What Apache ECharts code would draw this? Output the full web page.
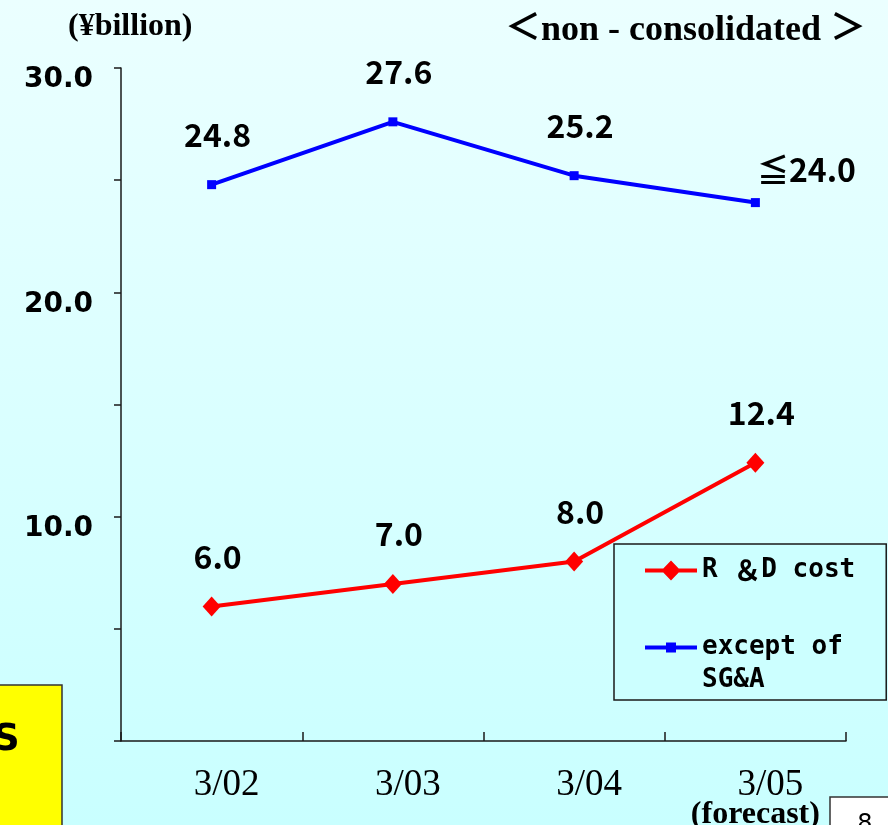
<!DOCTYPE html>
<html>
<head>
<meta charset="utf-8">
<script src="https://cdn.jsdelivr.net/npm/echarts@6/dist/echarts.min.js"></script>
<style>
  html, body { margin: 0; padding: 0; }
  #chart { width: 888px; height: 825px; }
</style>
</head>
<body>
<div id="chart"></div>
<script>
// Fiscal years (March year-end); the last one is a forecast
const categories = ['3/02', '3/03', '3/04', '3/05'];
const forecastIndex = 3;
const forecastNote = '(forecast)';

// ¥ billion, non-consolidated
const rdCost = [6.0, 7.0, 8.0, 12.4];
const sgaExcept = [24.8, 27.6, 25.2, 24.0];

// Value-axis labels that are printed (ticks every 5)
const yLabelValues = [10, 20, 30];

const seriesNames = ['R&D cost', 'except of SG&A'];
const legendText = {
  'R&D cost': '{m|R }{c|＆}{m|D cost}',
  'except of SG&A': '{m|}\n{m|except of}\n{m|SG&A}'
};

const GOTHIC = '"Noto Sans CJK JP", "Noto Sans", sans-serif';
const MONO = '"DejaVu Sans Mono", "Noto Sans CJK JP", monospace';
const SERIF = '"Liberation Serif", "Noto Sans CJK JP", serif';

// Legend icons: line with the series marker, drawn in a 52 x 20 box
const RD_ICON = 'path://M0 7.9H18.3L26 0L33.7 7.9H52V12.1H33.7L26 20L18.3 12.1H0Z';
const SGA_ICON = 'path://M26 0h0.01v0.01h-0.01Z M0 7.9H21V5H31V7.9H52V12.1H31V15H21V12.1H0Z M26 19.99h0.01v0.01h-0.01Z';

const chart = echarts.init(document.getElementById('chart'), null, { renderer: 'canvas' });

const valueLabel = {
  show: true,
  position: 'top',
  color: '#000',
  fontFamily: GOTHIC,
  fontWeight: 'bold',
  fontSize: 32,
  formatter: p => p.value.toFixed(1)
};

chart.setOption({
  backgroundColor: new echarts.graphic.LinearGradient(0, 0, 0, 1, [
    { offset: 0, color: '#EBFFFF' },
    { offset: 1, color: '#C9FFFF' }
  ]),
  animation: false,
  grid: { left: 121, right: 42, top: 68, bottom: 84, containLabel: false, outerBoundsMode: 'none' },
  xAxis: {
    type: 'category',
    data: categories,
    boundaryGap: true,
    axisLine: { lineStyle: { color: '#1a1a1a', width: 1.5 } },
    axisTick: { show: true, inside: true, length: 9, alignWithLabel: false, lineStyle: { color: '#1a1a1a', width: 1.5 } },
    axisLabel: {
      interval: 0,
      margin: 26,
      color: '#000',
      formatter: (v, i) => i === forecastIndex ? `{v|${v}}\n{f|${forecastNote}}` : `{v|${v}}`,
      rich: {
        v: { fontFamily: SERIF, fontSize: 37, lineHeight: 36, color: '#000', padding: [0, 0, 0, 30] },
        f: { fontFamily: SERIF, fontSize: 32, fontWeight: 'bold', lineHeight: 24, color: '#000' }
      }
    },
    splitLine: { show: false }
  },
  yAxis: {
    type: 'value',
    min: 0,
    max: 30,
    interval: 5,
    axisLine: { show: true, lineStyle: { color: '#1a1a1a', width: 1.5 } },
    axisTick: { show: true, length: 7, lineStyle: { color: '#1a1a1a', width: 1.5 } },
    splitLine: { show: false },
    axisLabel: {
      margin: 28,
      color: '#000',
      fontFamily: '"DejaVu Sans", sans-serif',
      fontWeight: 'bold',
      fontSize: 28,
      verticalAlign: 'top',
      lineHeight: 24,
      formatter: v => yLabelValues.includes(v) ? v.toFixed(1) : ''
    }
  },
  legend: {
    orient: 'vertical',
    left: 614,
    top: 544,
    padding: [10, 31, 3, 31],
    backgroundColor: '#CCFFFF',
    borderColor: '#1a1a1a',
    borderWidth: 1.5,
    borderRadius: 0,
    itemWidth: 52,
    itemHeight: 20,
    itemGap: 11,
    selectedMode: false,
    itemStyle: { borderWidth: 0 },
    data: [
      { name: seriesNames[0], icon: RD_ICON },
      { name: seriesNames[1], icon: SGA_ICON }
    ],
    formatter: name => legendText[name],
    textStyle: {
      fontFamily: MONO, fontSize: 26, fontWeight: 'bold', color: '#000', lineHeight: 33,
      rich: {
        m: { fontFamily: MONO, fontSize: 26, fontWeight: 'bold', color: '#000', lineHeight: 33 },
        c: { fontFamily: GOTHIC, fontSize: 28, fontWeight: 'bold', color: '#000', lineHeight: 33 }
      }
    }
  },
  series: [
    {
      name: seriesNames[0],
      type: 'line',
      data: rdCost,
      color: '#FF0000',
      symbol: 'diamond',
      symbolSize: [18, 20],
      lineStyle: { width: 4, color: '#FF0000' },
      itemStyle: { color: '#FF0000', borderWidth: 0 },
      label: Object.assign({}, valueLabel, { distance: 24, offset: [6, 0] }),
      z: 3
    },
    {
      name: seriesNames[1],
      type: 'line',
      data: sgaExcept.map((v, i) => i === forecastIndex
        ? { value: v, label: { position: 'right', distance: -3, offset: [0, -33], formatter: p => '≦' + p.value.toFixed(1) } }
        : v),
      color: '#0000FF',
      symbol: 'rect',
      symbolSize: 9,
      lineStyle: { width: 4, color: '#0000FF' },
      itemStyle: { color: '#0000FF', borderWidth: 0 },
      label: Object.assign({}, valueLabel, { distance: 29, offset: [6, 0] }),
      z: 3
    }
  ],
  graphic: [
    {
      type: 'text', left: 68, top: 11,
      style: { text: '(¥billion)', fontFamily: SERIF, fontWeight: 'bold', fontSize: 32, fill: '#000' }
    },
    {
      type: 'text', right: 22, top: 13,
      style: { text: '＜non - consolidated ＞', fontFamily: SERIF, fontWeight: 'bold', fontSize: 36, fill: '#000' }
    },
    {
      type: 'rect', z: 10,
      shape: { x: -2, y: 685, width: 64, height: 150 },
      style: { fill: '#FFFF00', stroke: '#333', lineWidth: 1.5 }
    },
    {
      type: 'text', z: 11, x: -7, y: 740,
      style: { text: 'S', fontFamily: '"DejaVu Sans", sans-serif', fontWeight: 'bold', fontSize: 37, fill: '#000', verticalAlign: 'middle' }
    },
    {
      type: 'rect', z: 10,
      shape: { x: 830, y: 797, width: 70, height: 40 },
      style: { fill: '#FFFFFF', stroke: '#333', lineWidth: 1.5 }
    },
    {
      type: 'text', z: 11, x: 865, y: 813,
      style: { text: '8', fontFamily: '"DejaVu Sans", sans-serif', fontSize: 24, fill: '#000', align: 'center', verticalAlign: 'top' }
    }
  ]
});
</script>
</body>
</html>
